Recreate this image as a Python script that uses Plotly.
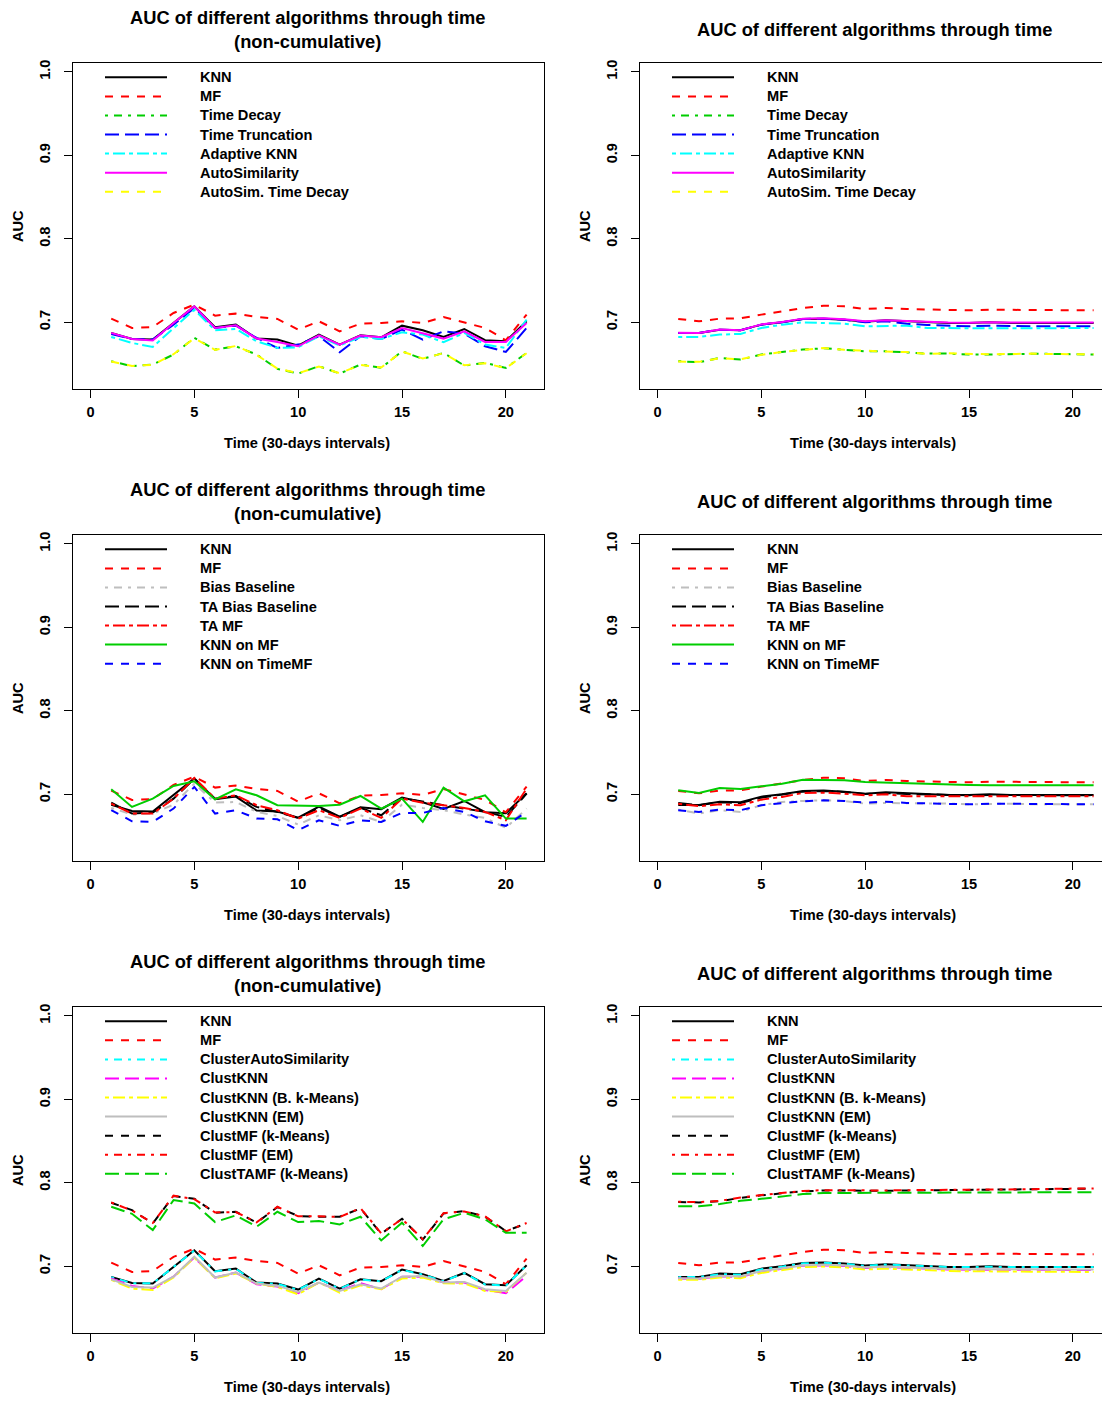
import plotly.graph_objects as go

W, H = 1102, 1401
FONT = "Liberation Sans, Arial, Helvetica, sans-serif"

# ---------------- data ----------------
T = list(range(1, 22))
X_TICKS = [0, 5, 10, 15, 20]
Y_TICKS = [0.7, 0.8, 0.9, 1.0]
Y_TICK_TEXT = ["0.7", "0.8", "0.9", "1.0"]

TITLE_NC = "AUC of different algorithms through time<br>(non-cumulative)"
TITLE_C = "AUC of different algorithms through time"
X_LABEL = "Time (30-days intervals)"
Y_LABEL = "AUC"

# non-cumulative (left column)
knn_nc = [0.6873, 0.6801, 0.6793, 0.6992, 0.7191, 0.6940, 0.6972, 0.6805, 0.6793, 0.6721, 0.6853,
          0.6733, 0.6845, 0.6821, 0.6960, 0.6904, 0.6825, 0.6920, 0.6785, 0.6773, 0.7012]
mf_nc = [0.7044, 0.6932, 0.6944, 0.7112, 0.7211, 0.7080, 0.7104, 0.7064, 0.7040, 0.6912, 0.7012,
         0.6892, 0.6984, 0.6992, 0.7012, 0.6992, 0.7064, 0.7000, 0.6932, 0.6785, 0.7092]
time_decay_nc = [0.6534, 0.6474, 0.6494, 0.6614, 0.6813, 0.6673, 0.6713, 0.6614, 0.6442, 0.6386, 0.6474,
                 0.6386, 0.6494, 0.6454, 0.6653, 0.6562, 0.6633, 0.6482, 0.6514, 0.6454, 0.6633]
time_trunc_nc = [0.6861, 0.6801, 0.6793, 0.6972, 0.7171, 0.6932, 0.6960, 0.6813, 0.6693, 0.6733, 0.6833,
                 0.6641, 0.6833, 0.6801, 0.6912, 0.6793, 0.6892, 0.6865, 0.6713, 0.6645, 0.6932]
adaptive_knn_nc = [0.6825, 0.6753, 0.6705, 0.6932, 0.7151, 0.6904, 0.6920, 0.6773, 0.6693, 0.6701, 0.6833,
                   0.6721, 0.6825, 0.6801, 0.6880, 0.6853, 0.6761, 0.6873, 0.6733, 0.6693, 0.7032]
autosim_nc = [0.6873, 0.6801, 0.6781, 0.6992, 0.7191, 0.6932, 0.6964, 0.6805, 0.6765, 0.6713, 0.6845,
              0.6733, 0.6841, 0.6821, 0.6932, 0.6873, 0.6805, 0.6892, 0.6765, 0.6765, 0.6992]
autosim_td_nc = [0.6530, 0.6478, 0.6490, 0.6618, 0.6810, 0.6670, 0.6716, 0.6610, 0.6446, 0.6390, 0.6470,
                 0.6390, 0.6490, 0.6458, 0.6650, 0.6566, 0.6630, 0.6486, 0.6510, 0.6450, 0.6630]

bias_nc = [0.6837, 0.6757, 0.6769, 0.6876, 0.7128, 0.6900, 0.6908, 0.6789, 0.6741, 0.6637, 0.6749,
           0.6689, 0.6749, 0.6669, 0.6876, 0.6837, 0.6809, 0.6757, 0.6717, 0.6598, 0.6829]
ta_bias_nc = [0.6900, 0.6769, 0.6781, 0.6948, 0.7187, 0.6948, 0.6980, 0.6849, 0.6789, 0.6717, 0.6837,
              0.6729, 0.6837, 0.6749, 0.6956, 0.6908, 0.6869, 0.6829, 0.6789, 0.6729, 0.7008]
ta_mf_nc = [0.6888, 0.6769, 0.6769, 0.6948, 0.7195, 0.6948, 0.6988, 0.6869, 0.6809, 0.6709, 0.6809,
            0.6717, 0.6829, 0.6717, 0.6948, 0.6900, 0.6869, 0.6837, 0.6789, 0.6689, 0.7068]
knn_on_mf_nc = [0.7060, 0.6849, 0.6948, 0.7100, 0.7155, 0.6940, 0.7060, 0.6988, 0.6869, 0.6861, 0.6861,
                0.6876, 0.6980, 0.6829, 0.6948, 0.6669, 0.7080, 0.6916, 0.6988, 0.6709, 0.6709]
knn_on_timemf_nc = [0.6809, 0.6677, 0.6669, 0.6829, 0.7088, 0.6769, 0.6809, 0.6709, 0.6701, 0.6570, 0.6689,
                    0.6622, 0.6689, 0.6669, 0.6777, 0.6777, 0.6837, 0.6789, 0.6677, 0.6622, 0.6789]

clust_autosim_nc = [0.6870, 0.6798, 0.6795, 0.6990, 0.7188, 0.6938, 0.6970, 0.6802, 0.6790, 0.6718, 0.6850,
                    0.6730, 0.6842, 0.6818, 0.6958, 0.6900, 0.6822, 0.6918, 0.6782, 0.6770, 0.7010]
clustknn_nc = [0.6853, 0.6765, 0.6733, 0.6876, 0.7104, 0.6865, 0.6924, 0.6785, 0.6757, 0.6677, 0.6805,
               0.6705, 0.6797, 0.6725, 0.6876, 0.6876, 0.6805, 0.6805, 0.6717, 0.6677, 0.6884]
clustknn_bkm_nc = [0.6837, 0.6733, 0.6717, 0.6865, 0.7104, 0.6857, 0.6912, 0.6793, 0.6753, 0.6665, 0.6805,
                   0.6685, 0.6773, 0.6725, 0.6853, 0.6865, 0.6797, 0.6793, 0.6705, 0.6693, 0.6924]
clustknn_em_nc = [0.6845, 0.6753, 0.6745, 0.6876, 0.7116, 0.6865, 0.6924, 0.6793, 0.6765, 0.6693, 0.6805,
                  0.6705, 0.6785, 0.6733, 0.6876, 0.6884, 0.6805, 0.6813, 0.6725, 0.6705, 0.6924]
clustmf_km_nc = [0.7761, 0.7673, 0.7514, 0.7841, 0.7809, 0.7641, 0.7653, 0.7522, 0.7709, 0.7602, 0.7594,
                 0.7594, 0.7693, 0.7390, 0.7570, 0.7320, 0.7633, 0.7661, 0.7594, 0.7422, 0.7514]
clustmf_em_nc = [0.7765, 0.7668, 0.7518, 0.7846, 0.7805, 0.7645, 0.7650, 0.7526, 0.7713, 0.7598, 0.7598,
                 0.7590, 0.7697, 0.7395, 0.7566, 0.7325, 0.7637, 0.7657, 0.7598, 0.7418, 0.7518]
clusttamf_km_nc = [0.7713, 0.7629, 0.7434, 0.7793, 0.7753, 0.7530, 0.7610, 0.7474, 0.7653, 0.7530, 0.7542,
                   0.7502, 0.7594, 0.7310, 0.7522, 0.7243, 0.7562, 0.7641, 0.7562, 0.7402, 0.7402]

# cumulative (right column)
knn_c = [0.6873, 0.6873, 0.6912, 0.6904, 0.6972, 0.7000, 0.7040, 0.7044, 0.7032, 0.7008, 0.7024,
         0.7012, 0.7000, 0.6992, 0.6992, 0.7000, 0.6992, 0.6992, 0.6992, 0.6992, 0.6992]
mf_c = [0.7040, 0.7012, 0.7044, 0.7048, 0.7092, 0.7131, 0.7171, 0.7199, 0.7191, 0.7159, 0.7171,
        0.7159, 0.7151, 0.7151, 0.7143, 0.7151, 0.7151, 0.7147, 0.7143, 0.7143, 0.7143]
time_decay_c = [0.6534, 0.6522, 0.6574, 0.6554, 0.6614, 0.6641, 0.6673, 0.6689, 0.6673, 0.6653, 0.6653,
                0.6641, 0.6625, 0.6625, 0.6614, 0.6614, 0.6622, 0.6622, 0.6622, 0.6614, 0.6614]
time_trunc_c = [0.6873, 0.6873, 0.6912, 0.6904, 0.6972, 0.7000, 0.7040, 0.7044, 0.7032, 0.7000, 0.7012,
                0.6984, 0.6968, 0.6960, 0.6952, 0.6960, 0.6952, 0.6952, 0.6952, 0.6952, 0.6952]
adaptive_knn_c = [0.6825, 0.6825, 0.6853, 0.6861, 0.6932, 0.6972, 0.7000, 0.6992, 0.6984, 0.6952, 0.6960,
                  0.6960, 0.6932, 0.6928, 0.6928, 0.6928, 0.6928, 0.6928, 0.6928, 0.6928, 0.6932]
autosim_c = [0.6875, 0.6873, 0.6915, 0.6906, 0.6975, 0.7004, 0.7044, 0.7048, 0.7036, 0.7012, 0.7026,
             0.7014, 0.7004, 0.6998, 0.6996, 0.7002, 0.6998, 0.6998, 0.6998, 0.6998, 0.6998]
autosim_td_c = [0.6530, 0.6526, 0.6570, 0.6558, 0.6610, 0.6645, 0.6670, 0.6692, 0.6670, 0.6656, 0.6650,
                0.6644, 0.6622, 0.6628, 0.6618, 0.6617, 0.6620, 0.6625, 0.6620, 0.6617, 0.6617]

bias_c = [0.6817, 0.6769, 0.6809, 0.6789, 0.6869, 0.6908, 0.6920, 0.6928, 0.6920, 0.6888, 0.6896,
          0.6896, 0.6888, 0.6888, 0.6880, 0.6888, 0.6888, 0.6880, 0.6880, 0.6880, 0.6880]
ta_bias_c = [0.6895, 0.6870, 0.6905, 0.6895, 0.6960, 0.6992, 0.7032, 0.7040, 0.7028, 0.7004, 0.7016,
             0.7004, 0.6996, 0.6988, 0.6988, 0.6992, 0.6988, 0.6988, 0.6988, 0.6988, 0.6988]
ta_mf_c = [0.6888, 0.6857, 0.6880, 0.6869, 0.6936, 0.6968, 0.7016, 0.7020, 0.7008, 0.6988, 0.7000,
           0.6976, 0.6976, 0.6976, 0.6976, 0.6980, 0.6976, 0.6976, 0.6976, 0.6976, 0.6976]
knn_on_mf_c = [0.7048, 0.7016, 0.7076, 0.7064, 0.7096, 0.7127, 0.7175, 0.7175, 0.7167, 0.7147, 0.7139,
               0.7135, 0.7120, 0.7120, 0.7112, 0.7108, 0.7108, 0.7108, 0.7108, 0.7108, 0.7108]
knn_on_timemf_c = [0.6809, 0.6789, 0.6817, 0.6809, 0.6869, 0.6896, 0.6916, 0.6928, 0.6920, 0.6900, 0.6912,
                   0.6896, 0.6888, 0.6888, 0.6880, 0.6888, 0.6888, 0.6888, 0.6880, 0.6880, 0.6880]

clust_autosim_c = [0.6870, 0.6872, 0.6905, 0.6900, 0.6965, 0.6995, 0.7035, 0.7042, 0.7030, 0.7005, 0.7020,
                   0.7010, 0.6998, 0.6992, 0.6990, 0.6995, 0.6990, 0.6990, 0.6990, 0.6992, 0.6992]
clustknn_c = [0.6855, 0.6850, 0.6880, 0.6872, 0.6935, 0.6968, 0.7005, 0.7012, 0.7002, 0.6980, 0.6990,
              0.6980, 0.6968, 0.6962, 0.6960, 0.6962, 0.6958, 0.6958, 0.6958, 0.6955, 0.6955]
clustknn_bkm_c = [0.6840, 0.6838, 0.6865, 0.6858, 0.6920, 0.6952, 0.6990, 0.6998, 0.6988, 0.6962, 0.6972,
                  0.6962, 0.6950, 0.6945, 0.6940, 0.6942, 0.6938, 0.6935, 0.6935, 0.6932, 0.6932]
clustknn_em_c = [0.6858, 0.6855, 0.6885, 0.6878, 0.6942, 0.6972, 0.7010, 0.7018, 0.7008, 0.6985, 0.6995,
                 0.6985, 0.6975, 0.6968, 0.6965, 0.6968, 0.6965, 0.6965, 0.6962, 0.6962, 0.6962]
clustmf_km_c = [0.7770, 0.7765, 0.7780, 0.7820, 0.7850, 0.7875, 0.7898, 0.7908, 0.7905, 0.7900, 0.7905,
                0.7908, 0.7910, 0.7912, 0.7912, 0.7915, 0.7918, 0.7920, 0.7925, 0.7928, 0.7930]
clustmf_em_c = [0.7774, 0.7768, 0.7784, 0.7824, 0.7853, 0.7878, 0.7902, 0.7912, 0.7908, 0.7903, 0.7908,
                0.7912, 0.7913, 0.7915, 0.7916, 0.7918, 0.7921, 0.7923, 0.7928, 0.7931, 0.7933]
clusttamf_km_c = [0.7720, 0.7718, 0.7745, 0.7785, 0.7808, 0.7840, 0.7865, 0.7878, 0.7878, 0.7875, 0.7878,
                  0.7880, 0.7880, 0.7882, 0.7882, 0.7884, 0.7885, 0.7886, 0.7888, 0.7888, 0.7888]

# R-style palette and line types
COL = {"black": "#000000", "red": "#FF0000", "green3": "#00CD00", "blue": "#0000FF",
       "cyan": "#00FFFF", "magenta": "#FF00FF", "yellow": "#FFFF00", "gray": "#BEBEBE"}
DASH = {1: "solid", 2: "8px,8px", 4: "3px,6px,8px,6px", 5: "14px,6px", 6: "4px,4px,12px,4px"}

group_a_names = ["KNN", "MF", "Time Decay", "Time Truncation", "Adaptive KNN", "AutoSimilarity",
                 "AutoSim. Time Decay"]
group_a_cols = ["black", "red", "green3", "blue", "cyan", "magenta", "yellow"]
group_b_names = ["KNN", "MF", "Bias Baseline", "TA Bias Baseline", "TA MF", "KNN on MF", "KNN on TimeMF"]
group_b_cols = ["black", "red", "gray", "black", "red", "green3", "blue"]
group_c_names = ["KNN", "MF", "ClusterAutoSimilarity", "ClustKNN", "ClustKNN (B. k-Means)", "ClustKNN (EM)",
                 "ClustMF (k-Means)", "ClustMF (EM)", "ClustTAMF (k-Means)"]
group_c_cols = ["black", "red", "cyan", "magenta", "yellow", "gray", "black", "red", "green3"]
LTY_CYCLE = [1, 2, 4, 5, 6]

panels = [
    (0, 0, TITLE_NC, group_a_names, group_a_cols,
     [knn_nc, mf_nc, time_decay_nc, time_trunc_nc, adaptive_knn_nc, autosim_nc, autosim_td_nc]),
    (0, 1, TITLE_C, group_a_names, group_a_cols,
     [knn_c, mf_c, time_decay_c, time_trunc_c, adaptive_knn_c, autosim_c, autosim_td_c]),
    (1, 0, TITLE_NC, group_b_names, group_b_cols,
     [knn_nc, mf_nc, bias_nc, ta_bias_nc, ta_mf_nc, knn_on_mf_nc, knn_on_timemf_nc]),
    (1, 1, TITLE_C, group_b_names, group_b_cols,
     [knn_c, mf_c, bias_c, ta_bias_c, ta_mf_c, knn_on_mf_c, knn_on_timemf_c]),
    (2, 0, TITLE_NC, group_c_names, group_c_cols,
     [knn_nc, mf_nc, clust_autosim_nc, clustknn_nc, clustknn_bkm_nc, clustknn_em_nc,
      clustmf_km_nc, clustmf_em_nc, clusttamf_km_nc]),
    (2, 1, TITLE_C, group_c_names, group_c_cols,
     [knn_c, mf_c, clust_autosim_c, clustknn_c, clustknn_bkm_c, clustknn_em_c,
      clustmf_km_c, clustmf_em_c, clusttamf_km_c]),
]

# ---------------- geometry (pixels) ----------------
ROW_OFF = 473
COL_OFF = 567
BOX_TOP, BOX_BOT = 60, 387
BOX_L, BOX_R = 73, 544
PX_PER_X = 20.77
X0 = -0.84
Y_RANGE = [0.6199, 1.0108]
LINE_W = 2
TXT = 14.6
TTL = 18.3


def fx(px):
    return px / W


def fy(py):
    return 1 - py / H


fig = go.Figure()
layout = {}
shapes = []
annotations = []

for i, (r, c, title, names, cols, series) in enumerate(panels):
    k = "" if i == 0 else str(i + 1)
    xa, ya = "x" + k, "y" + k
    left = BOX_L + c * COL_OFF
    right = min(BOX_R + c * COL_OFF, W)
    top = BOX_TOP + r * ROW_OFF
    bot = BOX_BOT + r * ROW_OFF
    x_hi = X0 + (right - left) / PX_PER_X

    for j, (name, col, vals) in enumerate(zip(names, cols, series)):
        lty = LTY_CYCLE[j % 5]
        fig.add_trace(go.Scatter(x=T, y=vals, mode="lines", name=name, showlegend=False,
                                 line=dict(color=COL[col], width=LINE_W, dash=DASH[lty]),
                                 xaxis=xa, yaxis=ya))
        # legend sample + label
        ly = top + 14.5 + 19.1 * j
        shapes.append(dict(type="line", xref="paper", yref="paper",
                           x0=fx(105 + c * COL_OFF), x1=fx(167 + c * COL_OFF), y0=fy(ly), y1=fy(ly),
                           line=dict(color=COL[col], width=LINE_W, dash=DASH[lty])))
        annotations.append(dict(text=name, xref="paper", yref="paper", x=fx(198 + c * COL_OFF), y=fy(ly),
                                xanchor="left", yanchor="middle", showarrow=False,
                                font=dict(family=FONT, size=TXT, color="black", weight="bold")))

    layout["xaxis" + k] = dict(domain=[fx(left), fx(right)], range=[X0, x_hi], anchor=ya,
                               tickmode="array", tickvals=X_TICKS, ticks="outside", ticklen=8,
                               tickcolor="black", tickwidth=1, showgrid=False, zeroline=False,
                               showline=True, linecolor="black", linewidth=1, mirror=True,
                               ticklabelstandoff=1,
                               tickfont=dict(family=FONT, size=TXT, color="black", weight="bold"))
    layout["yaxis" + k] = dict(domain=[fy(bot), fy(top)], range=Y_RANGE, anchor=xa,
                               tickmode="array", tickvals=Y_TICKS, ticktext=Y_TICK_TEXT,
                               ticks="outside", ticklen=8, tickcolor="black", tickwidth=1,
                               tickangle=-90, showgrid=False, zeroline=False,
                               showline=True, linecolor="black", linewidth=1, mirror=(c == 0),
                               ticklabelstandoff=8,
                               tickfont=dict(family=FONT, size=TXT, color="black", weight="bold"))

    cx = (BOX_L + BOX_R) / 2 + c * COL_OFF
    annotations.append(dict(text=title, xref="paper", yref="paper", x=fx(cx - 1), y=fy(26.5 + r * ROW_OFF),
                            xanchor="center", yanchor="middle", showarrow=False,
                            font=dict(family=FONT, size=TTL, color="black", weight="bold")))
    annotations.append(dict(text=X_LABEL, xref="paper", yref="paper", x=fx(cx - 2), y=fy(441 + r * ROW_OFF),
                            xanchor="center", yanchor="middle", showarrow=False,
                            font=dict(family=FONT, size=TXT, color="black", weight="bold")))
    annotations.append(dict(text=Y_LABEL, xref="paper", yref="paper", x=fx(18 + c * COL_OFF),
                            y=fy((top + bot) / 2), textangle=-90,
                            xanchor="center", yanchor="middle", showarrow=False,
                            font=dict(family=FONT, size=TXT, color="black", weight="bold")))

fig.update_layout(width=W, height=H, autosize=False, margin=dict(l=0, r=0, t=0, b=0),
                  paper_bgcolor="white", plot_bgcolor="white", showlegend=False,
                  shapes=shapes, annotations=annotations, **layout)

fig.write_html("out.html", config={"displayModeBar": False},
               post_script="document.body.style.margin='0';document.body.style.overflow='hidden';")
